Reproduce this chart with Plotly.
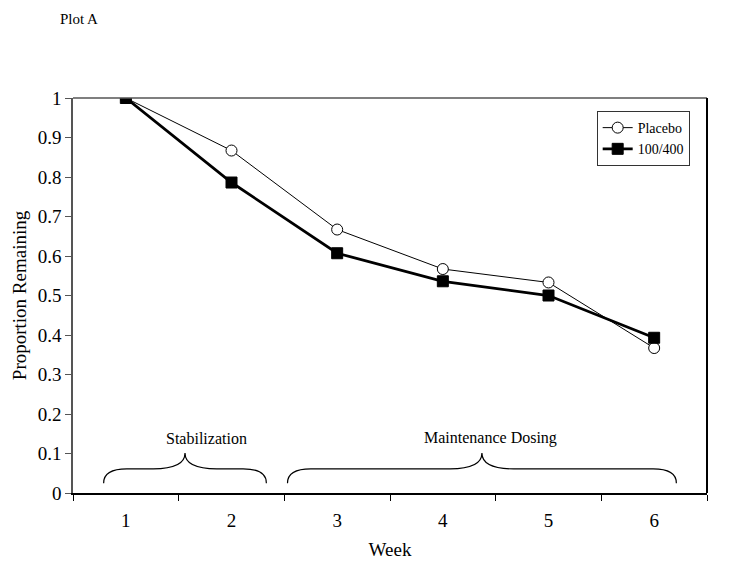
import plotly.graph_objects as go

weeks = [1, 2, 3, 4, 5, 6]
week_labels = ["1", "2", "3", "4", "5", "6"]
placebo = [1.0, 0.867, 0.667, 0.567, 0.533, 0.367]
dose_100_400 = [1.0, 0.786, 0.607, 0.536, 0.500, 0.393]
y_ticks = [0, 0.1, 0.2, 0.3, 0.4, 0.5, 0.6, 0.7, 0.8, 0.9, 1]
y_tick_labels = ["0", "0.1", "0.2", "0.3", "0.4", "0.5", "0.6", "0.7", "0.8", "0.9", "1"]

phases = ["Stabilization", "Maintenance Dosing"]
phase_start = [0.79, 2.53]
phase_end = [2.33, 6.21]
phase_label_x = [1.76, 4.45]

FONT = "Liberation Serif"

fig = go.Figure()
fig.add_trace(go.Scatter(
    x=weeks, y=placebo, name="Placebo", mode="lines+markers",
    line=dict(color="black", width=1),
    marker=dict(symbol="circle", size=11, color="white", line=dict(color="black", width=1)),
))
fig.add_trace(go.Scatter(
    x=weeks, y=dose_100_400, name="100/400", mode="lines+markers",
    line=dict(color="black", width=2.8),
    marker=dict(symbol="square", size=11, color="black", line=dict(color="black", width=1)),
))


def brace_path(x0, x1, yt=0.025, yb=0.061, yp=0.101, r=0.22, r2=0.3):
    xm = (x0 + x1) / 2
    return (f"M {x0},{yt} Q {x0},{yb} {x0 + r},{yb} L {xm - r2},{yb} "
            f"Q {xm},{yb} {xm},{yp} Q {xm},{yb} {xm + r2},{yb} "
            f"L {x1 - r},{yb} Q {x1},{yb} {x1},{yt}")


shapes = []
for s, e in zip(phase_start, phase_end):
    shapes.append(dict(type="path", xref="x", yref="y", path=brace_path(s, e),
                       line=dict(color="black", width=1.2)))
# top and right plot-area border
shapes.append(dict(type="line", xref="paper", yref="paper", x0=0, x1=1, y0=1, y1=1,
                   line=dict(color="#555555", width=1.5)))
shapes.append(dict(type="line", xref="paper", yref="paper", x0=1, x1=1, y0=0, y1=1,
                   line=dict(color="black", width=2)))

annotations = [dict(x=lx, y=0.139, xref="x", yref="y", text=t, showarrow=False,
                    font=dict(family=FONT, size=16, color="black"))
               for t, lx in zip(phases, phase_label_x)]
annotations.append(dict(xref="paper", yref="paper", x=(58 - 73) / 634, y=1 + 89 / 395,
                        text="Plot A", showarrow=False, xanchor="left", yanchor="top",
                        font=dict(family=FONT, size=15, color="black")))

fig.update_layout(
    width=725, height=559,
    margin=dict(l=65, r=26, t=90, b=74, autoexpand=False),
    plot_bgcolor="white", paper_bgcolor="white",
    font=dict(family=FONT, size=18, color="black"),
    showlegend=True,
    legend=dict(x=0.826, y=0.967, xanchor="left", yanchor="top",
                bgcolor="white", bordercolor="#333333", borderwidth=1,
                font=dict(family=FONT, size=14, color="black"),
                itemwidth=30, tracegroupgap=0),
    xaxis=dict(
        range=[0.5, 6.5], tickmode="array", tickvals=weeks, ticktext=week_labels,
        ticks="outside", ticklen=9, tickcolor="rgba(0,0,0,0)", automargin=False,
        showline=True, linecolor="black", linewidth=1.5, showgrid=False, zeroline=False,
        minor=dict(tickmode="linear", tick0=0.5, dtick=1, ticks="outside", ticklen=6,
                   tickcolor="black", tickwidth=1, showgrid=False),
        title=dict(text="Week", standoff=13, font=dict(size=19)),
        tickfont=dict(size=19),
    ),
    yaxis=dict(
        range=[0, 1], tickmode="array", tickvals=y_ticks, ticktext=y_tick_labels,
        ticks="outside", ticklen=6, tickcolor="#555555", tickwidth=1, automargin=False,
        showline=True, linecolor="#555555", linewidth=1.5, showgrid=False, zeroline=False,
        title=dict(text="Proportion Remaining", standoff=6, font=dict(size=19)),
        tickfont=dict(size=19),
    ),
    shapes=shapes, annotations=annotations,
)

fig.write_html("out.html")
